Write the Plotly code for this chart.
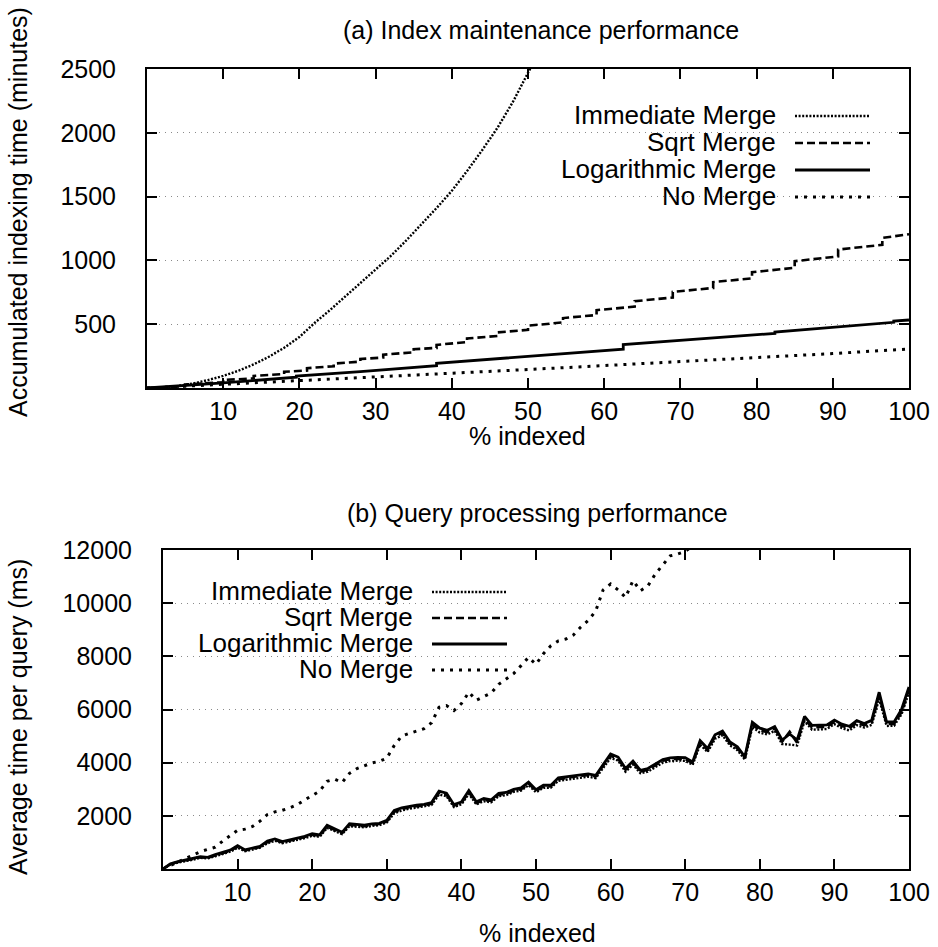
import plotly.graph_objects as go

# ---------------- (a) Index maintenance performance ----------------
# Accumulated indexing time (minutes) vs. % indexed
imm_top_x = [0, 2, 4, 6, 8, 10, 12, 14, 16, 18, 20, 22, 24, 26, 28, 30, 32, 34, 36, 38,
             40, 42, 44, 46, 48, 50, 52]
imm_top_y = [0, 3, 15, 35, 62, 95, 135, 185, 245, 315, 400, 510, 610, 715, 820, 925, 1035,
             1155, 1280, 1410, 1545, 1700, 1865, 2040, 2240, 2460, 2700]

sqrt_top_x = [0, 5, 5, 10, 10, 14, 14, 18, 18, 21, 21, 24.5, 24.5, 28, 28, 31, 31, 35, 35,
              38, 38, 42, 42, 46, 46, 50, 50, 54.6, 54.6, 59, 59, 64, 64, 69, 69, 74.3, 74.3,
              79.4, 79.4, 85, 85, 90.7, 90.7, 96.5, 96.5, 100]
sqrt_top_y = [0, 14, 28, 45, 63, 75, 95, 109, 127, 137, 155, 171, 191, 207, 227, 239, 261,
              280, 304, 314, 338, 360, 388, 408, 436, 456, 488, 514, 548, 572, 610, 638, 680,
              709, 753, 784, 830, 859, 907, 942, 994, 1031, 1085, 1122, 1176, 1205]

log_top_x = [0, 10, 19.6, 19.6, 28, 38, 38, 50, 62.5, 62.5, 70, 82.4, 82.4, 90, 98, 98, 100]
log_top_y = [0, 40, 85, 93, 128, 175, 193, 250, 305, 340, 372, 428, 438, 475, 515, 525, 533]

nomerge_top_x = [0, 5, 10, 15, 20, 25, 30, 35, 40, 45, 50, 55, 60, 65, 70, 75, 80, 85, 90, 95, 100]
nomerge_top_y = [0, 14, 29, 45, 60, 74, 88, 100, 112, 128, 145, 160, 175, 190, 205, 220, 237,
                 254, 270, 288, 305]

# ---------------- (b) Query processing performance ----------------
# Average time per query (ms) vs. % indexed
pct = list(range(0, 101))

imm_bot = [0, 170, 240, 290, 350, 420, 400, 480, 570, 650, 800, 670, 730, 800, 970, 1060, 970,
           1030, 1090, 1160, 1250, 1210, 1550, 1440, 1310, 1610, 1600, 1570, 1620, 1650, 1750,
           2100, 2200, 2270, 2310, 2350, 2410, 2800, 2740, 2330, 2430, 2830, 2430, 2550, 2510,
           2740, 2780, 2900, 2950, 3150, 2890, 3050, 3060, 3320, 3360, 3410, 3450, 3470, 3420,
           3820, 4180, 4080, 3660, 3930, 3600, 3660, 3840, 4000, 4060, 4080, 4070, 3920, 4680,
           4400, 4900, 5030, 4650, 4470, 4120, 5340, 5130, 5060, 5200, 4700, 4680, 4650, 5560,
           5240, 5250, 5270, 5450, 5300, 5210, 5410, 5320, 5420, 6400, 5380, 5390, 5820, 6650]

sqrt_bot = [0, 180, 260, 310, 380, 440, 420, 510, 600, 680, 840, 700, 760, 830, 1010, 1100,
            1000, 1060, 1120, 1200, 1290, 1250, 1600, 1480, 1350, 1660, 1640, 1610, 1660, 1690,
            1790, 2150, 2250, 2320, 2360, 2390, 2460, 2870, 2800, 2380, 2480, 2890, 2480, 2600,
            2560, 2800, 2830, 2950, 3000, 3210, 2940, 3100, 3110, 3380, 3420, 3470, 3510, 3530,
            3480, 3890, 4260, 4150, 3730, 4000, 3660, 3730, 3900, 4070, 4130, 4150, 4140, 3980,
            4760, 4470, 4980, 5120, 4720, 4540, 4170, 5430, 5220, 5150, 5290, 4790, 5160, 4750,
            5650, 5320, 5340, 5350, 5530, 5380, 5300, 5500, 5400, 5510, 6520, 5460, 5460, 5900,
            6750]

log_bot = [0, 200, 280, 330, 400, 460, 440, 540, 620, 710, 880, 720, 790, 850, 1050, 1130,
           1030, 1090, 1150, 1230, 1330, 1280, 1650, 1520, 1380, 1700, 1680, 1650, 1700, 1720,
           1830, 2200, 2300, 2360, 2400, 2430, 2500, 2930, 2850, 2420, 2520, 2950, 2530, 2650,
           2600, 2850, 2880, 3000, 3050, 3270, 2980, 3150, 3150, 3430, 3470, 3520, 3560, 3580,
           3520, 3950, 4330, 4210, 3780, 4060, 3710, 3780, 3950, 4120, 4180, 4200, 4190, 4030,
           4830, 4530, 5050, 5190, 4780, 4600, 4220, 5520, 5300, 5220, 5360, 4850, 5080, 4850,
           5740, 5400, 5410, 5420, 5600, 5450, 5370, 5580, 5470, 5590, 6650, 5530, 5530, 6000,
           6850]

nomerge_bot_x = list(range(0, 72))
nomerge_bot = [0, 130, 260, 390, 520, 650, 740, 820, 1050, 1250, 1460, 1500, 1600, 1800, 2050,
               2150, 2210, 2300, 2420, 2600, 2770, 2930, 3300, 3380, 3250, 3600, 3780, 3900,
               3990, 4050, 4170, 4650, 5000, 5100, 5200, 5280, 5500, 6080, 6150, 5960, 6220,
               6650, 6350, 6500, 6620, 6950, 7150, 7350, 7650, 7960, 7700, 8100, 8400, 8580,
               8650, 8800, 9100, 9350, 9700, 10500, 10720, 10500, 10220, 10850, 10470, 10650,
               11100, 11450, 11780, 11850, 11950, 12150]

series_names = ["Immediate Merge", "Sqrt Merge", "Logarithmic Merge", "No Merge"]
x_ticks = [10, 20, 30, 40, 50, 60, 70, 80, 90, 100]
y_ticks_top = [500, 1000, 1500, 2000, 2500]
y_ticks_bot = [2000, 4000, 6000, 8000, 10000, 12000]

# Line styles (gnuplot-like)
styles = [
    dict(color="black", width=2.4, dash="2px,1.6px"),
    dict(color="black", width=2.6, dash="8px,4px"),
    dict(color="black", width=2.8, dash="solid"),
    dict(color="black", width=3, dash="3px,6px"),
]

FONT = "Liberation Sans, Arial, Helvetica, sans-serif"
FS = 25      # tick labels, titles
FS_KEY = 26  # key labels
W, H = 938, 947


def px_x(p):
    return p / W


def px_y(p):
    return 1 - p / H


fig = go.Figure()

top_data = [(imm_top_x, imm_top_y), (sqrt_top_x, sqrt_top_y),
            (log_top_x, log_top_y), (nomerge_top_x, nomerge_top_y)]
bot_data = [(pct, imm_bot), (pct, sqrt_bot), (pct, log_bot), (nomerge_bot_x, nomerge_bot)]

for name, (xs, ys), st in zip(series_names, top_data, styles):
    fig.add_trace(go.Scatter(x=xs, y=ys, mode="lines", name=name, line=st,
                             xaxis="x", yaxis="y", showlegend=False))
for name, (xs, ys), st in zip(series_names, bot_data, styles):
    fig.add_trace(go.Scatter(x=xs, y=ys, mode="lines", name=name, line=st,
                             xaxis="x2", yaxis="y2", showlegend=False))

axis_common = dict(
    ticks="inside", ticklen=10, tickwidth=1.5, tickcolor="black",
    showline=True, linewidth=2, linecolor="black", mirror="ticks",
    tickfont=dict(family=FONT, size=FS, color="black"),
    zeroline=False, fixedrange=True, automargin=False,
)
grid_style = dict(showgrid=True, gridcolor="#8a8a8a", gridwidth=1, griddash="1px,5px")

fig.update_layout(
    template="none",
    width=W, height=H,
    margin=dict(l=0, r=0, t=0, b=0, pad=0, autoexpand=False),
    paper_bgcolor="white", plot_bgcolor="white",
    font=dict(family=FONT, size=FS, color="black"),
    showlegend=False,
    xaxis=dict(domain=[px_x(147), px_x(909)], range=[0, 100], tickvals=x_ticks,
               ticktext=[str(v) for v in x_ticks],
               showgrid=False, anchor="y", ticklabelstandoff=0, **axis_common),
    yaxis=dict(domain=[px_y(388), px_y(69)], range=[0, 2500], tickvals=y_ticks_top,
               ticktext=[str(v) for v in y_ticks_top],
               anchor="x", ticklabelstandoff=24, **grid_style, **axis_common),
    xaxis2=dict(domain=[px_x(163), px_x(909)], range=[0, 100], tickvals=x_ticks,
                ticktext=[str(v) for v in x_ticks],
                showgrid=False, anchor="y2", ticklabelstandoff=0, **axis_common),
    yaxis2=dict(domain=[px_y(869), px_y(550)], range=[0, 12000], tickvals=y_ticks_bot,
                ticktext=[str(v) for v in y_ticks_bot],
                anchor="x2", ticklabelstandoff=24, **grid_style, **axis_common),
)

annotations = [
    dict(text="(a) Index maintenance performance", x=px_x(541), y=px_y(30)),
    dict(text="(b) Query processing performance", x=px_x(537), y=px_y(513)),
    dict(text="% indexed", x=px_x(527), y=px_y(436)),
    dict(text="% indexed", x=px_x(537), y=px_y(933)),
    dict(text="Accumulated indexing time (minutes)", x=px_x(18), y=px_y(212), textangle=-90),
    dict(text="Average time per query (ms)", x=px_x(18), y=px_y(717), textangle=-90),
]
for a in annotations:
    fig.add_annotation(xref="paper", yref="paper", showarrow=False,
                       xanchor="center", yanchor="middle",
                       font=dict(family=FONT, size=FS, color="black"), **a)

# Key boxes: white background hiding grid lines, right-justified labels, samples on the right
shapes = [
    dict(type="rect", xref="x", yref="y", x0=47.2, x1=98.2, y0=1420, y1=2230,
         fillcolor="white", line=dict(width=0), layer="below"),
    dict(type="rect", xref="x2", yref="y2", x0=0.3, x1=48.3, y0=7150, y1=11100,
         fillcolor="white", line=dict(width=0), layer="below"),
]

key_rows_top = [115, 142, 169, 196]
key_rows_bot = [591, 617, 643, 669]
for name, st, ry_t, ry_b in zip(series_names, styles, key_rows_top, key_rows_bot):
    for text_right, x0, x1, ry in [(778, 795, 870, ry_t), (415, 432, 507, ry_b)]:
        fig.add_annotation(xref="paper", yref="paper", showarrow=False,
                           text=name, x=px_x(text_right), y=px_y(ry),
                           xanchor="right", yanchor="middle",
                           font=dict(family=FONT, size=FS_KEY, color="black"))
        shapes.append(dict(type="line", xref="paper", yref="paper",
                           x0=px_x(x0), x1=px_x(x1), y0=px_y(ry + 1), y1=px_y(ry + 1),
                           line=st, layer="above"))

fig.update_layout(shapes=shapes)

fig.write_html("out.html")
